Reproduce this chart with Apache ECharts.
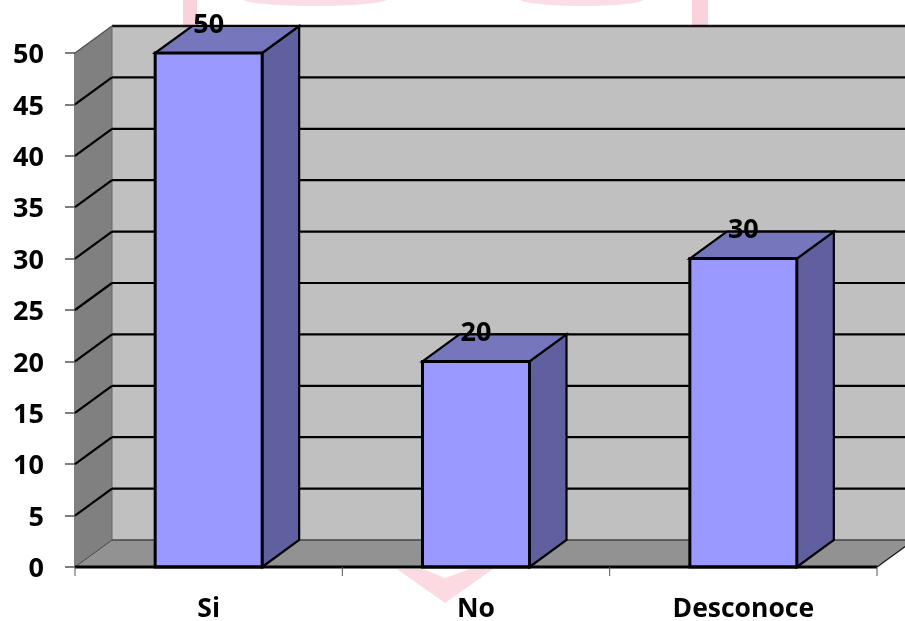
<!DOCTYPE html>
<html>
<head>
<meta charset="utf-8">
<style>html,body{margin:0;padding:0;background:#fff}#c{width:905px;height:621px}</style>
<script src="https://cdn.jsdelivr.net/npm/echarts@6/dist/echarts.min.js"></script>
</head>
<body>
<div id="c"></div>
<script>
const categories = ['Si', 'No', 'Desconoce'];
const values = [50, 20, 30];
const yTicks = [0, 5, 10, 15, 20, 25, 30, 35, 40, 45, 50];

// Oblique projection used for the box look
const DX = 37, DY = -27, BAR_W = 107;
const FONT = '"Open Sans", sans-serif';

const chart = echarts.init(document.getElementById('c'), null, { renderer: 'canvas' });

function poly(points, fill, stroke, lineWidth) {
  return { type: 'polygon', shape: { points }, style: { fill, stroke: stroke || 'none', lineWidth: lineWidth || 0 } };
}
function seg(a, b, stroke, lineWidth) {
  return { type: 'line', shape: { x1: a[0], y1: a[1], x2: b[0], y2: b[1] }, style: { stroke, lineWidth } };
}

// Walls and floor, one pass; grid lines follow one per tick
function renderWalls(params, api) {
  const o = api.coord([0, 0]);
  const t = api.coord([0, 50]);
  const left = params.coordSys.x, right = left + params.coordSys.width;
  const bottom = o[1], top = t[1];
  const c = [];
  c.push(poly([[left + DX, top + DY], [right + DX, top + DY], [right + DX, bottom + DY], [left + DX, bottom + DY]], '#c0c0c0'));
  c.push(poly([[left, top], [left + DX, top + DY], [left + DX, bottom + DY], [left, bottom]], '#808080'));
  c.push(poly([[left, bottom], [left + DX, bottom + DY], [right + DX, bottom + DY], [right, bottom]], '#929292'));
  c.push(seg([left + DX, top + DY], [right + DX, top + DY], '#111', 2.5));
  c.push(seg([left, top], [left + DX, top + DY], '#555', 1.5));
  c.push(seg([left + DX, top + DY], [left + DX, bottom + DY], '#666', 1));
  c.push(seg([left, bottom], [left + DX, bottom + DY], '#444', 1));
  c.push(seg([left + DX, bottom + DY], [right + DX, bottom + DY], '#444', 1.5));
  c.push(seg([right, bottom], [right + DX, bottom + DY], '#222', 1.5));
  return { type: 'group', children: c };
}

function renderGrid(params, api) {
  const v = api.value(0);
  if (v === 0 || v === 50) return;
  const p = api.coord([0, v]);
  const left = params.coordSys.x, right = left + params.coordSys.width;
  return { type: 'group', children: [
    seg([left, p[1]], [left + DX, p[1] + DY], '#000', 2.2),
    seg([left + DX, p[1] + DY], [right + DX, p[1] + DY], '#000', 2.2)
  ]};
}

function renderBar(params, api) {
  const i = api.value(0), v = api.value(1);
  const top = api.coord([i, v]);
  const base = api.coord([i, 0]);
  const x0 = top[0] - BAR_W / 2, x1 = top[0] + BAR_W / 2;
  const y0 = top[1], y1 = base[1];
  return { type: 'group', children: [
    poly([[x1, y0], [x1 + DX, y0 + DY], [x1 + DX, y1 + DY], [x1, y1]], '#6060a0', '#000', 2.2),
    poly([[x0, y0], [x0 + DX, y0 + DY], [x1 + DX, y0 + DY], [x1, y0]], '#7676bd', '#000', 2.2),
    poly([[x0, y0], [x1, y0], [x1, y1], [x0, y1]], '#9999ff', '#000', 3),
    { type: 'text', x: top[0], y: y0 - 28, style: {
      text: String(v), fill: '#000', font: 'bold 27px ' + FONT, align: 'center', verticalAlign: 'middle'
    }, z2: 10 }
  ]};
}

const option = {
  animation: false,
  backgroundColor: '#ffffff',
  grid: { left: 75, right: 28, top: 53, bottom: 54, outerBoundsMode: 'none' },
  xAxis: {
    type: 'category', data: categories, boundaryGap: true,
    axisLine: { show: false },
    axisTick: { show: false },
    axisLabel: { color: '#000', fontFamily: FONT, fontWeight: 'bold', fontSize: 26.5, margin: 29 },
    z: 5
  },
  yAxis: {
    type: 'value', min: 0, max: 50, interval: 5,
    axisLine: { show: true, lineStyle: { color: '#555', width: 1.5 } },
    axisTick: { show: true, length: 10, lineStyle: { color: '#555', width: 1.5 } },
    axisLabel: {
      margin: 31, align: 'right', formatter: '{n|{value}}',
      rich: { n: { color: '#000', fontFamily: FONT, fontWeight: 'bold', fontSize: 27, padding: [5, 0, 0, 0] } }
    },
    splitLine: { show: false }
  },
  graphic: [
    // Faint pink mark behind the plot
    { type: 'rect', z: 0, shape: { x: 183, y: 0, width: 14, height: 26 }, style: { fill: '#f9d2dc' } },
    { type: 'rect', z: 0, shape: { x: 692, y: 0, width: 16, height: 26 }, style: { fill: '#f9d2dc' } },
    { type: 'ellipse', z: 0, shape: { cx: 315, cy: -1, rx: 72, ry: 7 }, style: { fill: '#fbdde5' } },
    { type: 'ellipse', z: 0, shape: { cx: 582, cy: -1, rx: 62, ry: 7 }, style: { fill: '#fbdde5' } },
    { type: 'polygon', z: 0, shape: { points: [[397, 569], [423, 569], [445, 578], [470, 569], [493, 569], [445, 603]] }, style: { fill: '#fbdae2' } }
  ],
  series: [
    { type: 'custom', coordinateSystem: 'cartesian2d', clip: false, z: 1, data: [[0, 0]], renderItem: renderWalls, silent: true },
    { type: 'custom', coordinateSystem: 'cartesian2d', clip: false, z: 2, data: yTicks.map(t => [t]), encode: { y: 0 }, renderItem: renderGrid, silent: true },
    { type: 'custom', coordinateSystem: 'cartesian2d', clip: false, z: 3, data: values.map((v, i) => [i, v]), encode: { x: 0, y: 1 }, renderItem: renderBar, silent: true }
  ]
};
chart.setOption(option);

// Baseline and category ticks sit above the boxes
const g0 = chart.convertToPixel({ xAxisIndex: 0, yAxisIndex: 0 }, [0, 0]);
const step = chart.convertToPixel({ xAxisIndex: 0 }, 1) - chart.convertToPixel({ xAxisIndex: 0 }, 0);
const axisLeft = g0[0] - step / 2;
const extras = [{ type: 'line', z: 20, shape: { x1: axisLeft, y1: g0[1], x2: axisLeft + step * categories.length, y2: g0[1] }, style: { stroke: '#000', lineWidth: 3 } }];
for (let i = 0; i <= categories.length; i++) {
  extras.push({ type: 'line', z: 20, shape: { x1: axisLeft + step * i, y1: g0[1], x2: axisLeft + step * i, y2: g0[1] + 9 }, style: { stroke: '#555', lineWidth: 1 } });
}
chart.setOption({ graphic: option.graphic.concat(extras) });
</script>
</body>
</html>
